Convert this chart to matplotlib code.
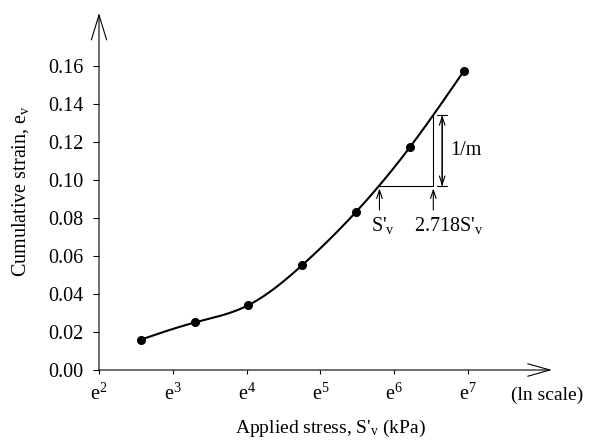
import numpy as np
import matplotlib
matplotlib.use("Agg")
import matplotlib.pyplot as plt

# ---- data ----
ln_stress = [2.57, 3.30, 4.02, 4.75, 5.48, 6.21, 6.94]      # ln of applied stress
strain = [0.016, 0.025, 0.034, 0.055, 0.083, 0.117, 0.157]  # cumulative strain
y_ticks = [0.00, 0.02, 0.04, 0.06, 0.08, 0.10, 0.12, 0.14, 0.16]
y_tick_labels = ["0.00", "0.02", "0.04", "0.06", "0.08", "0.10", "0.12", "0.14", "0.16"]
x_ticks = [2, 3, 4, 5, 6, 7]
x_tick_labels = [r"e$^{%d}$" % k for k in x_ticks]
# slope triangle (ln stress / strain)
tri_x = [5.80, 6.53]
tri_y = [0.0967, 0.134]

plt.rcParams['font.family'] = ['Liberation Serif', 'DejaVu Serif']
plt.rcParams['mathtext.fontset'] = 'custom'
plt.rcParams['mathtext.rm'] = 'Liberation Serif'
plt.rcParams['mathtext.it'] = 'Liberation Serif:italic'
plt.rcParams['mathtext.default'] = 'regular'

FS = 14.5


def natural_spline(x, y, xs):
    x = np.asarray(x, float); y = np.asarray(y, float)
    n = len(x)
    h = np.diff(x)
    A = np.zeros((n, n)); r = np.zeros(n)
    A[0, 0] = A[-1, -1] = 1
    for i in range(1, n - 1):
        A[i, i - 1] = h[i - 1]
        A[i, i] = 2 * (h[i - 1] + h[i])
        A[i, i + 1] = h[i]
        r[i] = 3 * ((y[i + 1] - y[i]) / h[i] - (y[i] - y[i - 1]) / h[i - 1])
    c = np.linalg.solve(A, r)
    b = (y[1:] - y[:-1]) / h - h * (2 * c[:-1] + c[1:]) / 3
    d = (c[1:] - c[:-1]) / (3 * h)
    idx = np.clip(np.searchsorted(x, xs) - 1, 0, n - 2)
    dx = xs - x[idx]
    return y[idx] + b[idx] * dx + c[idx] * dx ** 2 + d[idx] * dx ** 3


fig = plt.figure(figsize=(6.09, 4.42), dpi=100)
ax = fig.add_axes([99 / 609, 1 - 370 / 442, (552 - 99) / 609, (370 - 13) / 442])
ax.set_xlim(2, 2 + (552 - 99) / 73.8)
ax.set_ylim(0, (370 - 13) / 1902)

for s in ax.spines.values():
    s.set_visible(False)

# axis arrows
ax.annotate("", xy=(1, 0), xytext=(0, 0), xycoords='axes fraction',
            arrowprops=dict(arrowstyle='->,head_length=1.6,head_width=0.45',
                            lw=0.8, color='black', shrinkA=0, shrinkB=0))
ax.annotate("", xy=(0, 1), xytext=(0, 0), xycoords='axes fraction',
            arrowprops=dict(arrowstyle='->,head_length=1.8,head_width=0.55',
                            lw=0.8, color='black', shrinkA=0, shrinkB=0))

ax.set_yticks(y_ticks)
ax.set_yticklabels(y_tick_labels)
ax.set_xticks(x_ticks)
ax.set_xticklabels(x_tick_labels)
ax.tick_params(axis='y', direction='out', length=4, width=0.8, pad=7, labelsize=FS)
ax.tick_params(axis='x', direction='out', length=3, width=0.8, pad=7, labelsize=FS)

ax.set_ylabel(r"Cumulative strain, e$_{v}$", fontsize=14.5)
ax.yaxis.set_label_coords(-0.150, 0.5)
ax.set_xlabel(r"Applied stress, S'$_{v}$ (kPa)", fontsize=14)
ax.xaxis.set_label_coords((330 - 99) / 453, -0.134)

ax.text(2 + (547 - 99) / 73.8, -0.0135, "(ln scale)", ha='center', va='center',
        fontsize=14, clip_on=False)

# curve
xs = np.linspace(ln_stress[0], ln_stress[-1], 300)
ax.plot(xs, natural_spline(ln_stress, strain, xs), color='black', lw=1.5)
ax.plot(ln_stress, strain, 'o', color='black', markersize=5.5)

# slope triangle
ax.plot([tri_x[0], tri_x[1], tri_x[1]], [tri_y[0], tri_y[0], tri_y[1]],
        color='black', lw=0.8)
xd = tri_x[1] + 0.12
ax.annotate("", xy=(xd, tri_y[1]), xytext=(xd, tri_y[0]),
            arrowprops=dict(arrowstyle='<->,head_length=0.6,head_width=0.2',
                            lw=0.8, color='black', shrinkA=0, shrinkB=0))
ax.annotate("", xy=(xd, tri_y[1]), xytext=(xd, tri_y[0]),
            arrowprops=dict(arrowstyle='|-|,widthA=0.35,widthB=0.35',
                            lw=0.8, color='black', shrinkA=0, shrinkB=0))
ax.text(xd + 0.11, (tri_y[0] + tri_y[1]) / 2, "1/m", ha='left', va='center', fontsize=FS)

for xa in tri_x:
    ax.annotate("", xy=(xa, tri_y[0] - 0.0012), xytext=(xa, 0.0841),
                arrowprops=dict(arrowstyle='->,head_length=0.6,head_width=0.2',
                                lw=0.8, color='black', shrinkA=0, shrinkB=0))
ax.text(tri_x[0] + 0.05, 0.0762, r"S'$_{v}$", ha='center', va='center', fontsize=FS)
ax.text(tri_x[1] + 0.21, 0.0762, r"2.718S'$_{v}$", ha='center', va='center', fontsize=FS)

fig.savefig("out.png", dpi=100)
